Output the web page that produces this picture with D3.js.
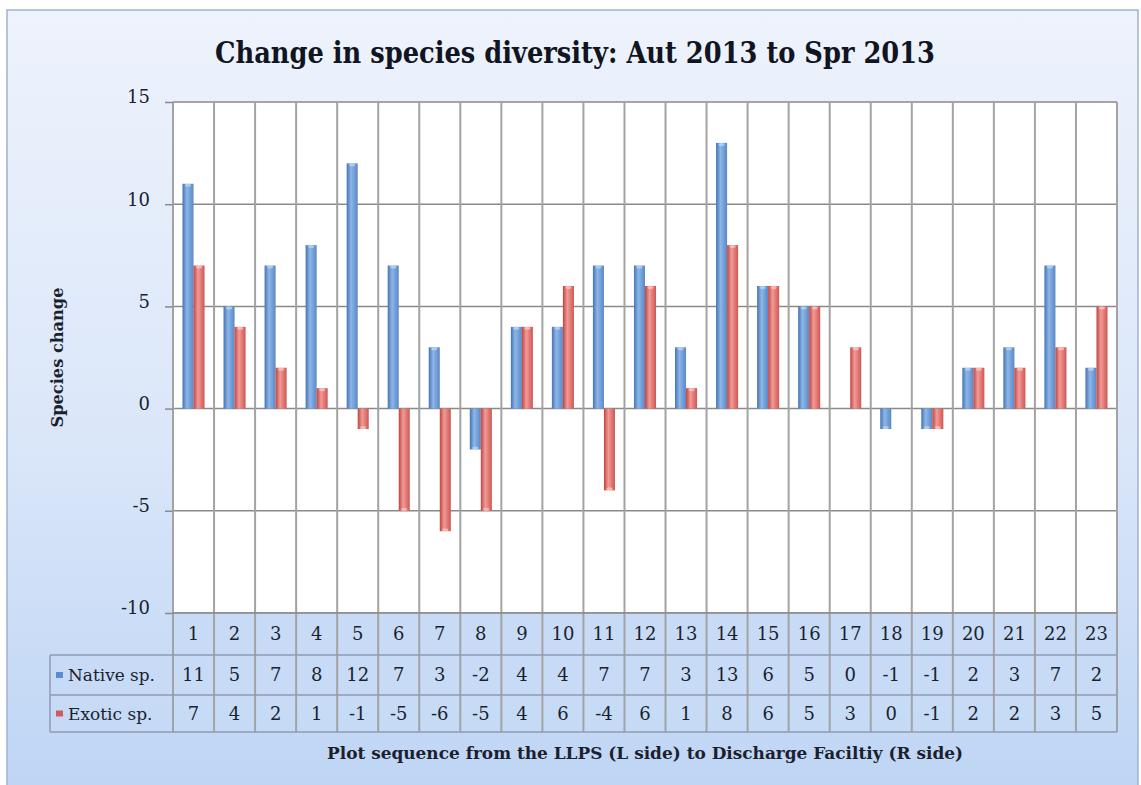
<!DOCTYPE html>
<html>
<head>
<meta charset="utf-8">
<script src="https://cdn.jsdelivr.net/npm/d3@7"></script>
<style>
  html, body { margin: 0; padding: 0; background: #ffffff; }
  svg { display: block; }
</style>
</head>
<body>
<svg id="chart" width="1141" height="785"></svg>
<script>
// ---- data ----
const plots = ["1","2","3","4","5","6","7","8","9","10","11","12","13","14","15","16","17","18","19","20","21","22","23"];
const seriesNames = ["Native sp.", "Exotic sp."];
const nativeValues = [11, 5, 7, 8, 12, 7, 3, -2, 4, 4, 7, 7, 3, 13, 6, 5, 0, -1, -1, 2, 3, 7, 2];
const exoticValues = [7, 4, 2, 1, -1, -5, -6, -5, 4, 6, -4, 6, 1, 8, 6, 5, 3, 0, -1, 2, 2, 3, 5];
const yTicks = [-10, -5, 0, 5, 10, 15];
const titleText = "Change in species diversity: Aut 2013 to Spr 2013";
const yAxisTitle = "Species change";
const xAxisTitle = "Plot sequence from the LLPS (L side) to Discharge Faciltiy (R side)";

const seriesValues = [nativeValues, exoticValues];

// ---- layout ----
const plot = { left: 173, right: 1117, top: 102, bottom: 613 };
const rowH = [42, 40, 37];             // category row, native row, exotic row
const legendLeft = 50;
const serif = "'DejaVu Serif', 'Liberation Serif', serif";
const ink = "#1b1f2e";

const svg = d3.select("#chart");
const defs = svg.append("defs");

// squeeze a text element horizontally to a fixed width, keeping its height
function squeeze(sel, width) {
  const w = sel.node().getComputedTextLength();
  if (w > width) sel.attr("textLength", width).attr("lengthAdjust", "spacingAndGlyphs");
  return sel;
}

// chart background gradient
const bg = defs.append("linearGradient").attr("id", "bgGrad")
  .attr("x1", 0).attr("y1", 0).attr("x2", 0).attr("y2", 1);
bg.append("stop").attr("offset", "0%").attr("stop-color", "#eef3fc");
bg.append("stop").attr("offset", "55%").attr("stop-color", "#dae6f9");
bg.append("stop").attr("offset", "100%").attr("stop-color", "#bcd4f4");

// cylinder-like bar shading
const barColors = [
  { edge: "#4474b3", mid: "#8db6e8", edge2: "#5a88c6", cap: "#b9d2f2" },
  { edge: "#c0433f", mid: "#f29a96", edge2: "#cf5753", cap: "#f7c4c1" }
];
barColors.forEach((c, i) => {
  const g = defs.append("linearGradient").attr("id", "barGrad" + i)
    .attr("x1", 0).attr("y1", 0).attr("x2", 1).attr("y2", 0);
  g.append("stop").attr("offset", "0%").attr("stop-color", c.edge);
  g.append("stop").attr("offset", "40%").attr("stop-color", c.mid);
  g.append("stop").attr("offset", "100%").attr("stop-color", c.edge2);
});

svg.append("rect").attr("x", 7).attr("y", 10).attr("width", 1131).attr("height", 800)
  .attr("fill", "url(#bgGrad)").attr("stroke", "#9fb2cc").attr("stroke-width", 1.5);

// ---- scales ----
const x0 = d3.scaleBand().domain(plots).range([plot.left, plot.right]).padding(0);
const x1 = d3.scaleBand().domain(seriesNames).range([0, x0.bandwidth()])
  .paddingInner(0).paddingOuter(0.86);
const y = d3.scaleLinear().domain([-10, 15]).range([plot.bottom, plot.top]);

// plot background
svg.append("rect").attr("x", plot.left).attr("y", plot.top)
  .attr("width", plot.right - plot.left).attr("height", plot.bottom - plot.top)
  .attr("fill", "#ffffff");

// horizontal gridlines
svg.append("g").selectAll("line").data(yTicks).join("line")
  .attr("x1", plot.left).attr("x2", plot.right)
  .attr("y1", d => y(d)).attr("y2", d => y(d))
  .attr("stroke", "#8a8a8a").attr("stroke-width", 1.5);

// data table cells
const tableTop = plot.bottom;
const rowY = [tableTop, tableTop + rowH[0], tableTop + rowH[0] + rowH[1]];
const tableBottom = rowY[2] + rowH[2];

svg.append("rect").attr("x", plot.left).attr("y", tableTop)
  .attr("width", plot.right - plot.left).attr("height", tableBottom - tableTop)
  .attr("fill", "#c7daf6").attr("opacity", 0.85);
svg.append("rect").attr("x", legendLeft).attr("y", rowY[1])
  .attr("width", plot.left - legendLeft).attr("height", tableBottom - rowY[1])
  .attr("fill", "#c7daf6").attr("opacity", 0.7);

// vertical gridlines through plot and table
const colEdges = plots.map(p => x0(p)).concat([plot.right]);
svg.append("g").selectAll("line").data(colEdges).join("line")
  .attr("x1", d => d).attr("x2", d => d)
  .attr("y1", plot.top).attr("y2", tableBottom)
  .attr("stroke", "#a3a3a3").attr("stroke-width", 2);

// table row lines
svg.append("line").attr("x1", plot.left).attr("x2", plot.right)
  .attr("y1", y(-10)).attr("y2", y(-10)).attr("stroke", "#8a8a8a").attr("stroke-width", 1.5);
[rowY[1], rowY[2], tableBottom].forEach(yy => {
  svg.append("line").attr("x1", legendLeft).attr("x2", plot.right)
    .attr("y1", yy).attr("y2", yy).attr("stroke", "#8f9bb0").attr("stroke-width", 1.5);
});
svg.append("line").attr("x1", legendLeft).attr("x2", legendLeft)
  .attr("y1", rowY[1]).attr("y2", tableBottom).attr("stroke", "#8f9bb0").attr("stroke-width", 1.5);

// y-axis ticks and labels (plain hyphen minus, as in the sheet)
const yAxis = d3.axisLeft(y).tickValues(yTicks).tickSize(8).tickPadding(15)
  .tickFormat(d => String(d));
const yG = svg.append("g").attr("transform", `translate(${plot.left},0)`).call(yAxis);
yG.select(".domain").remove();
yG.selectAll(".tick line").attr("stroke", "#8a8a8a").attr("stroke-width", 1.5);
yG.selectAll(".tick text").attr("font-family", serif).attr("font-size", 18)
  .attr("fill", ink).attr("dy", "0.05em");

// bars
const bars = svg.append("g");
seriesValues.forEach((vals, si) => {
  const name = seriesNames[si];
  const g = bars.append("g");
  const rows = plots.map((p, i) => ({ p, v: vals[i] })).filter(d => d.v !== 0);
  g.selectAll("rect").data(rows).join("rect")
    .attr("x", d => x0(d.p) + x1(name))
    .attr("width", x1.bandwidth())
    .attr("y", d => Math.min(y(d.v), y(0)))
    .attr("height", d => Math.abs(y(d.v) - y(0)))
    .attr("fill", `url(#barGrad${si})`);
  // small rounded end cap on each bar
  g.selectAll("ellipse").data(rows).join("ellipse")
    .attr("cx", d => x0(d.p) + x1(name) + x1.bandwidth() / 2)
    .attr("cy", d => y(d.v) + (d.v > 0 ? 1.5 : -1.5))
    .attr("rx", x1.bandwidth() / 2 - 2.5).attr("ry", 1.5)
    .attr("fill", barColors[si].cap).attr("opacity", 0.8);
});

// table text
const cellText = (row, texts) => {
  svg.append("g").selectAll("text").data(plots).join("text")
    .attr("x", d => x0(d) + x0.bandwidth() / 2)
    .attr("y", rowY[row] + rowH[row] / 2)
    .attr("dy", "0.36em")
    .attr("text-anchor", "middle")
    .attr("font-family", serif).attr("font-size", 18).attr("fill", ink)
    .text((d, i) => texts[i]);
};
cellText(0, plots);
cellText(1, nativeValues);
cellText(2, exoticValues);

// legend keys inside the table
seriesNames.forEach((name, si) => {
  const cy = rowY[si + 1] + rowH[si + 1] / 2;
  svg.append("rect").attr("x", 56).attr("y", cy - 3).attr("width", 7).attr("height", 6)
    .attr("fill", si === 0 ? "#5a8bd0" : "#d35a5a");
  const t = svg.append("text").attr("x", 68).attr("y", cy).attr("dy", "0.36em")
    .attr("font-family", serif).attr("font-size", 17).attr("fill", ink)
    .text(name);
  squeeze(t, si === 0 ? 87 : 88);
});

// titles
squeeze(svg.append("text").attr("x", 575).attr("y", 63).attr("text-anchor", "middle")
  .attr("font-family", serif).attr("font-weight", "bold").attr("font-size", 29)
  .attr("fill", "#111522").text(titleText), 720);

squeeze(svg.append("text").attr("transform", `translate(63,${(plot.top + plot.bottom) / 2}) rotate(-90)`)
  .attr("text-anchor", "middle")
  .attr("font-family", serif).attr("font-weight", "bold").attr("font-size", 17)
  .attr("fill", ink).text(yAxisTitle), 140);

squeeze(svg.append("text").attr("x", (plot.left + plot.right) / 2).attr("y", 759).attr("text-anchor", "middle")
  .attr("font-family", serif).attr("font-weight", "bold").attr("font-size", 17)
  .attr("fill", ink).text(xAxisTitle), 636);
</script>
</body>
</html>
